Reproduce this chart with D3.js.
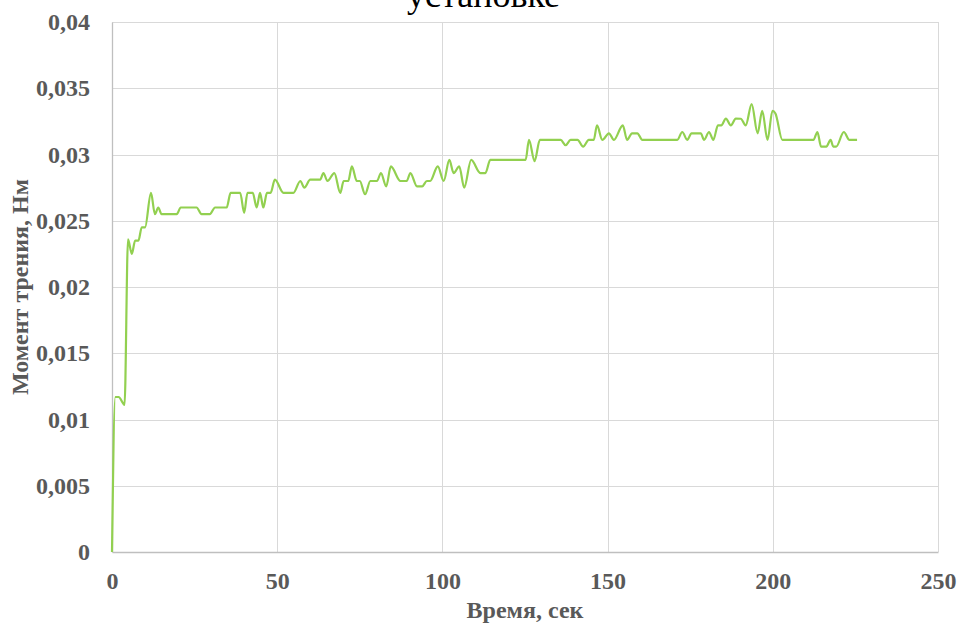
<!DOCTYPE html>
<html>
<head>
<meta charset="utf-8">
<script src="https://cdn.jsdelivr.net/npm/d3@7"></script>
<style>
  html, body { margin: 0; padding: 0; background: #fff; }
  svg { display: block; }
</style>
</head>
<body>
<svg id="chart" width="957" height="623"></svg>
<script>
// ---- data ----
const timeSec = [0, 1, 2, 3.4, 3.8, 4.85, 6, 7, 8, 9, 10, 11.8, 13, 14, 15, 19.6, 20.8, 25.6, 27.1, 29.6,
  31.2, 34.7, 35.9, 38.8, 40, 41, 42.6, 43.8, 44.8, 45.8, 46.9, 48, 49.3, 51.9, 54.9, 57, 58.2, 60, 63, 64,
  65.2, 67.3, 69.1, 70.1, 71.5, 72.6, 74.1, 75, 76.6, 78.2, 80.2, 81.4, 83, 84.4, 87.3, 89.2, 90.3, 92.3, 93.9, 95.3,
  96.3, 98.6, 100.4, 102.1, 103.4, 105.1, 106.6, 108.7, 111.5, 113, 114.5, 125.2, 126.2, 127.9, 129.5, 135.8, 137.3, 138.8, 140.9, 142.6,
  144.3, 145.8, 146.8, 148.4, 150.4, 151.9, 154.6, 155.9, 157.4, 159, 160.5, 171.1, 172.6, 174.1, 175.4, 178.2, 179.2, 180.7, 182, 183.4,
  184.4, 185.8, 187.3, 188.8, 190.3, 191.8, 193.6, 195.4, 196.8, 198.4, 199.9, 200.8, 202.9, 212.3, 213.5, 214.6, 216.2, 217.5, 218.3, 219.2,
  221.5, 223.2, 225.5];
const torque = [0, 0.0117, 0.0117, 0.0112, 0.0111, 0.0236, 0.0225, 0.0235, 0.0235, 0.0245, 0.0245, 0.0271, 0.0255, 0.026, 0.0255, 0.0255, 0.026, 0.026, 0.0255, 0.0255,
  0.026, 0.026, 0.0271, 0.0271, 0.0256, 0.0271, 0.0271, 0.026, 0.0271, 0.026, 0.0271, 0.0271, 0.0281, 0.0271, 0.0271, 0.028, 0.0275, 0.0281, 0.0281, 0.0286,
  0.028, 0.0286, 0.0271, 0.028, 0.028, 0.0291, 0.028, 0.028, 0.027, 0.028, 0.028, 0.0286, 0.0276, 0.0291, 0.028, 0.028, 0.0286, 0.0276, 0.0276, 0.028,
  0.028, 0.0291, 0.028, 0.0296, 0.0286, 0.0291, 0.0275, 0.0296, 0.0286, 0.0286, 0.0296, 0.0296, 0.0311, 0.0295, 0.0311, 0.0311, 0.0307, 0.0311, 0.0311, 0.0306,
  0.0311, 0.0311, 0.0322, 0.0311, 0.0316, 0.0311, 0.0322, 0.0311, 0.0316, 0.0316, 0.0311, 0.0311, 0.0317, 0.0311, 0.0316, 0.0316, 0.0311, 0.0317, 0.0311, 0.0322,
  0.0322, 0.0327, 0.0322, 0.0327, 0.0327, 0.0322, 0.0338, 0.0316, 0.0333, 0.0311, 0.0333, 0.0331, 0.0311, 0.0311, 0.0317, 0.0306, 0.0306, 0.0311, 0.0306, 0.0306,
  0.0317, 0.0311, 0.0311];
const xTicks = [0, 50, 100, 150, 200, 250];
const xTickLabels = ["0", "50", "100", "150", "200", "250"];
const yTicks = [0, 0.005, 0.01, 0.015, 0.02, 0.025, 0.03, 0.035, 0.04];
const yTickLabels = ["0", "0,005", "0,01", "0,015", "0,02", "0,025", "0,03", "0,035", "0,04"];
const titleText = "установке";
const xTitle = "Время, сек";
const yTitle = "Момент трения, Нм";

// ---- layout ----
const W = 957, H = 623;
const m = { left: 112, right: 19, top: 22, bottom: 71 };
const svg = d3.select("#chart");
const x = d3.scaleLinear().domain([0, 250]).range([m.left, W - m.right]);
const y = d3.scaleLinear().domain([0, 0.04]).range([H - m.bottom, m.top]);
const serif = "'Liberation Serif', 'Times New Roman', serif";
const labelColor = "#595959";

// gridlines
svg.append("g").selectAll("line.h").data(yTicks.slice(1)).join("line")
  .attr("x1", m.left).attr("x2", W - m.right)
  .attr("y1", d => Math.round(y(d)) + 0.5).attr("y2", d => Math.round(y(d)) + 0.5)
  .attr("stroke", "#d9d9d9").attr("stroke-width", 1);
svg.append("g").selectAll("line.v").data(xTicks.slice(1)).join("line")
  .attr("x1", d => Math.round(x(d)) + 0.5).attr("x2", d => Math.round(x(d)) + 0.5)
  .attr("y1", m.top).attr("y2", H - m.bottom)
  .attr("stroke", "#d9d9d9").attr("stroke-width", 1);

// axes
const xAxis = d3.axisBottom(x).tickValues(xTicks).tickSize(0).tickPadding(20)
  .tickFormat((d, i) => xTickLabels[i]);
const gx = svg.append("g").attr("transform", `translate(0,${H - m.bottom})`).call(xAxis);
gx.select(".domain").attr("stroke", "#bfbfbf").attr("stroke-width", 1.3);
gx.selectAll("text").attr("font-family", serif).attr("font-weight", "bold")
  .attr("font-size", 24).attr("fill", labelColor);

const yAxis = d3.axisLeft(y).tickValues(yTicks).tickSize(0).tickPadding(22)
  .tickFormat((d, i) => yTickLabels[i]);
const gy = svg.append("g").attr("transform", `translate(${m.left},0)`).call(yAxis);
gy.select(".domain").attr("stroke", "#bfbfbf").attr("stroke-width", 1.3);
gy.selectAll("text").attr("font-family", serif).attr("font-weight", "bold")
  .attr("font-size", 24).attr("fill", labelColor);

// line
const data = timeSec.map((t, i) => ({ t, v: torque[i] }));
const line = d3.line().x(d => x(d.t)).y(d => y(d.v)).curve(d3.curveMonotoneX);
svg.append("path").datum(data).attr("d", line)
  .attr("fill", "none").attr("stroke", "#92d050").attr("stroke-width", 2.2)
  .attr("stroke-linejoin", "round");

// titles
svg.append("text").attr("x", 407).attr("y", 7).attr("text-anchor", "start")
  .attr("font-family", serif).attr("font-size", 36).attr("fill", "#000").text(titleText);
svg.append("text").attr("x", 525).attr("y", 618).attr("text-anchor", "middle")
  .attr("font-family", serif).attr("font-weight", "bold").attr("font-size", 24)
  .attr("fill", labelColor).text(xTitle);
svg.append("text").attr("transform", `translate(28,${287}) rotate(-90)`).attr("text-anchor", "middle")
  .attr("font-family", serif).attr("font-weight", "bold").attr("font-size", 24)
  .attr("fill", labelColor).text(yTitle);
</script>
</body>
</html>
